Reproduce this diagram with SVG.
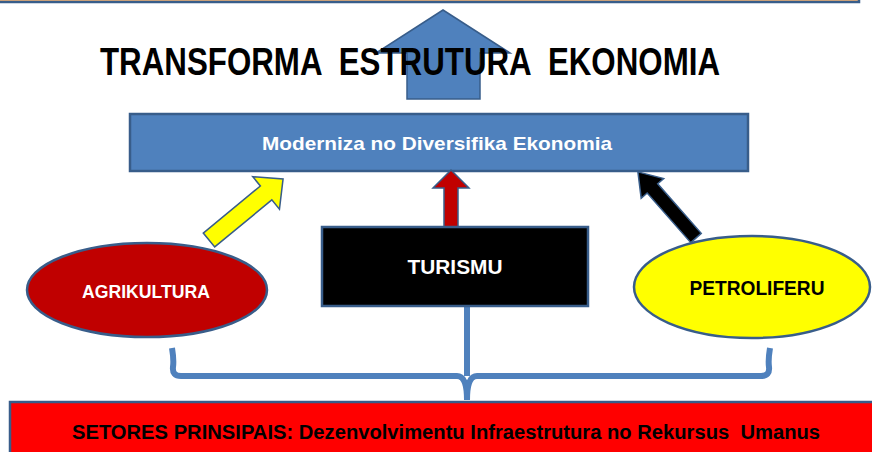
<svg xmlns="http://www.w3.org/2000/svg" width="872" height="452" viewBox="0 0 872 452">
<style>
.t{font-family:"Liberation Sans","DejaVu Sans",sans-serif;font-weight:bold;text-anchor:middle;white-space:pre}
.ol{stroke:#385D8A;stroke-width:2.5}
</style>
<rect width="872" height="452" fill="#fff"/>
<g id="top-bar"><rect x="-10" y="-20" width="869" height="22" fill="#F9B675" class="ol"/></g>
<g id="up-arrow"><polygon points="443,10 510,53 480,53 480,99 407,99 407,53 376,53" fill="#4F81BD" stroke="#385D8A" stroke-width="1.5"/></g>
<g id="title"><text class="t" xml:space="preserve" x="410" y="75" font-size="38" textLength="620" lengthAdjust="spacingAndGlyphs" fill="#000">TRANSFORMA  ESTRUTURA  EKONOMIA</text></g>
<g id="moderniza"><rect x="130" y="114" width="618" height="57" fill="#4F81BD" class="ol"/>
<text class="t" x="437" y="150" font-size="19" textLength="350" lengthAdjust="spacingAndGlyphs" fill="#fff">Moderniza no Diversifika Ekonomia</text></g>
<g id="connectors">
<polygon points="0,-9 74,-9 74,-21 96,0 74,21 74,9 0,9" transform="translate(209,240) rotate(-39.5)" fill="#FFFF00" stroke="#385D8A" stroke-width="1.5"/>
<polygon points="444,228 444,188 433,188 451,170 469,188 458,188 458,228" fill="#C00000" stroke="#385D8A" stroke-width="1.5"/>
<polygon points="0,-7 66,-7 66,-15 88,0 66,15 66,7 0,7" transform="translate(696,238) rotate(-131.3)" fill="#000" stroke="#385D8A" stroke-width="1.5"/>
<g fill="none" stroke="#4F81BD" stroke-width="6">
<path d="M467,307 V376"/>
<path d="M172,348 Q174,360 173,367 Q172,376 181,376 H457 Q467,376 467,400"/>
<path d="M770,348 Q768,360 769,367 Q770,376 761,376 H477 Q467,376 467,400"/>
</g>
</g>
<g id="agrikultura"><ellipse cx="147" cy="290" rx="120" ry="47" fill="#C00000" class="ol"/>
<text class="t" x="146" y="298" font-size="18" textLength="128" lengthAdjust="spacingAndGlyphs" fill="#fff">AGRIKULTURA</text></g>
<g id="turismu"><rect x="322" y="227" width="266" height="79" fill="#000" class="ol"/>
<text class="t" x="455" y="274" font-size="20" textLength="95" lengthAdjust="spacingAndGlyphs" fill="#fff">TURISMU</text></g>
<g id="petroliferu"><ellipse cx="752" cy="287" rx="118" ry="51" fill="#FFFF00" class="ol"/>
<text class="t" x="757" y="295" font-size="20" textLength="135" lengthAdjust="spacingAndGlyphs" fill="#000">PETROLIFERU</text></g>
<g id="setores"><rect x="10" y="402" width="880" height="70" fill="#FF0000" class="ol"/>
<text class="t" xml:space="preserve" x="446" y="439" font-size="20" textLength="748" lengthAdjust="spacingAndGlyphs" fill="#000">SETORES PRINSIPAIS: Dezenvolvimentu Infraestrutura no Rekursus  Umanus</text></g>
</svg>
